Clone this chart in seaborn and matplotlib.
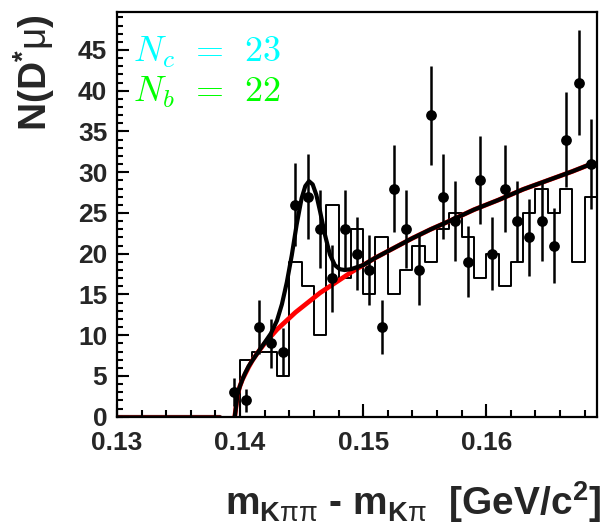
import numpy as np
import pandas as pd
import matplotlib
matplotlib.use("Agg")
import matplotlib.pyplot as plt
import seaborn as sns

# ----------------------------------------
# D* mu candidates: delta-mass spectrum with fit
# ----------------------------------------

bin_edges = np.round(np.arange(0.130, 0.1695, 0.001), 4)   # 39 bins of 1 MeV
bin_centers = bin_edges[:-1] + 0.0005

# right-sign data (points)
data_counts = [0, 0, 0, 0, 0, 0, 0, 0, 0,
               3, 2, 11, 9, 8, 26, 27, 23, 17, 23,
               20, 18, 11, 28, 23, 18, 37, 27, 24, 19,
               29, 20, 28, 24, 22, 24, 21, 34, 41, 31]

# comparison sample (histogram)
hist_counts = [0, 0, 0, 0, 0, 0, 0, 0, 0, 0,
               7, 8, 8, 5, 19, 16, 10, 26, 17, 23,
               15, 22, 15, 18, 21, 19, 23, 25, 22, 17,
               20, 16, 19, 25, 28, 25, 28, 19, 27]

# fit curves
total_x = [0.13957, 0.1398, 0.1400, 0.1402, 0.1404, 0.1407, 0.1410, 0.1415,
           0.1420, 0.1425, 0.1430, 0.1434, 0.1438, 0.1442, 0.1446, 0.1450,
           0.1453, 0.1456, 0.1459, 0.1462, 0.1465, 0.1469, 0.1473, 0.1477,
           0.1481, 0.1485, 0.1490, 0.1500, 0.1510, 0.1525, 0.1540, 0.1555,
           0.1570, 0.1590, 0.1610, 0.1630, 0.1650, 0.1670, 0.1685]
total_y = [0.0, 2.8, 3.8, 4.6, 5.3, 6.2, 6.9, 8.0,
           9.1, 10.2, 11.8, 13.8, 16.5, 19.8, 23.6, 26.8,
           28.3, 28.9, 28.5, 27.2, 25.2, 22.3, 19.9, 18.6,
           18.1, 18.0, 18.1, 18.6, 19.5, 20.7, 21.9, 23.0,
           24.0, 25.4, 26.6, 27.9, 29.0, 30.1, 31.0]

bkg_x = [0.13957, 0.1398, 0.1400, 0.1402, 0.1404, 0.1407, 0.1410, 0.1415,
         0.1420, 0.1425, 0.1430, 0.1435, 0.1440, 0.1445, 0.1450, 0.1455,
         0.1460, 0.1465, 0.1470, 0.1475, 0.1480, 0.1485, 0.1490, 0.1500,
         0.1510, 0.1525, 0.1540, 0.1555, 0.1570, 0.1590, 0.1610, 0.1630,
         0.1650, 0.1670, 0.1685]
bkg_y = [0.0, 2.8, 3.8, 4.6, 5.2, 6.1, 6.9, 8.0,
         9.0, 9.85, 10.7, 11.4, 12.1, 12.8, 13.4, 14.0,
         14.6, 15.2, 15.7, 16.2, 16.7, 17.2, 17.7, 18.6,
         19.5, 20.7, 21.9, 23.0, 24.0, 25.4, 26.6, 27.9,
         29.0, 30.1, 31.0]

below_x = [0.1300, 0.1384]
below_y = [0.0, 0.0]

n_signal = 23
n_bkg = 22

x_ticks = [0.13, 0.14, 0.15, 0.16]
x_ticklabels = ["0.13", "0.14", "0.15", "0.16"]
y_ticks = [0, 5, 10, 15, 20, 25, 30, 35, 40, 45]
y_ticklabels = [str(v) for v in y_ticks]
x_minor_step = 0.002
y_minor_step = 1


def setup_style():
    sns.set_style("ticks")
    plt.rcParams.update({
        "font.family": ["Liberation Sans", "DejaVu Sans"],
        "mathtext.fontset": "custom",
        "mathtext.rm": "Liberation Sans",
        "mathtext.bf": "Liberation Sans:bold",
        "mathtext.it": "Liberation Sans:italic",
        "xtick.direction": "in",
        "ytick.direction": "in",
        "xtick.major.size": 0,
        "xtick.minor.size": 0,
        "ytick.major.size": 0,
        "ytick.minor.size": 0,
        "xtick.major.pad": 10,
        "ytick.major.pad": 7,
        "axes.linewidth": 1.6,
        "axes.edgecolor": "black",
    })


def draw_inside_ticks(ax):
    # ROOT-style ticks on the inside of the frame
    xt = ax.get_xaxis_transform()
    yt = ax.get_yaxis_transform()
    x_minor = np.arange(0.130, 0.1690, x_minor_step)
    y_minor = np.arange(0, 50, y_minor_step)
    ax.vlines(x_minor, 0, 0.016, transform=xt, colors="black",
              linewidth=1.5, clip_on=False, zorder=6)
    ax.vlines(x_ticks, 0, 0.032, transform=xt, colors="black",
              linewidth=1.5, clip_on=False, zorder=6)
    ax.hlines(y_minor, 0, 0.0135, transform=yt, colors="black",
              linewidth=1.5, clip_on=False, zorder=6)
    ax.hlines(y_ticks, 0, 0.026, transform=yt, colors="black",
              linewidth=1.5, clip_on=False, zorder=6)


def main():
    setup_style()

    fig = plt.figure(figsize=(6.09, 5.26), dpi=100)
    ax = fig.add_axes([0.1921, 0.2078, 0.7882, 0.7700])

    hist_df = pd.DataFrame({"x": bin_centers, "w": hist_counts})
    sns.histplot(data=hist_df, x="x", weights="w", bins=list(bin_edges),
                 element="step", fill=False, color="black", linewidth=1.4,
                 ax=ax)

    sns.lineplot(x=below_x, y=below_y, color="#5a1010", linewidth=3.0, ax=ax)
    sns.lineplot(x=bkg_x, y=bkg_y, color="#ff0000", linewidth=3.4,
                 sort=False, estimator=None, ax=ax)
    sns.lineplot(x=total_x, y=total_y, color="black", linewidth=3.0,
                 sort=False, estimator=None, ax=ax)

    dc = np.array(data_counts, dtype=float)
    keep = dc > 0
    ax.errorbar(bin_centers[keep], dc[keep], yerr=np.sqrt(dc[keep]),
                fmt="none", ecolor="black", elinewidth=1.8, capsize=0, zorder=4)
    sns.scatterplot(x=bin_centers[keep], y=dc[keep], color="black", s=60,
                    edgecolor="black", linewidth=0, zorder=5, ax=ax)

    ax.set_xlim(0.130, 0.169)
    ax.set_ylim(0, 49.7)
    ax.set_xticks(x_ticks, labels=x_ticklabels, fontsize=19, fontweight="bold")
    ax.set_yticks(y_ticks, labels=y_ticklabels, fontsize=19, fontweight="bold")
    ax.tick_params(top=False, right=False, length=0)
    ax.set_xlabel("")
    ax.set_ylabel("")
    draw_inside_ticks(ax)
    ax.set_xlim(0.130, 0.169)
    ax.set_ylim(0, 49.7)

    ax.text(0.033, 0.8765, r"$N_c\;\,=\;\,%d$" % n_signal,
            transform=ax.transAxes, color="#00ffff", fontsize=26,
            math_fontfamily="cm", va="baseline")
    ax.text(0.033, 0.7778, r"$N_b\;\,=\;\,%d$" % n_bkg,
            transform=ax.transAxes, color="#00ff00", fontsize=26,
            math_fontfamily="cm", va="baseline")

    fig.text(0.056, 0.9715, r"$\mathbf{N(D^{*}}\mathrm{\mu}\mathbf{)}$",
             rotation=90, ha="center", va="top", fontsize=28,
             fontweight="bold")
    fig.text(0.987, 0.021,
             r"$\mathbf{m}_{\mathbf{K}\mathrm{\pi\pi}}$ - "
             r"$\mathbf{m}_{\mathbf{K}\mathrm{\pi}}$"
             r"  [GeV/c$^{\mathbf{2}}$]",
             ha="right", va="baseline", fontsize=28, fontweight="bold")

    fig.savefig("out.png", dpi=100)


if __name__ == "__main__":
    main()
